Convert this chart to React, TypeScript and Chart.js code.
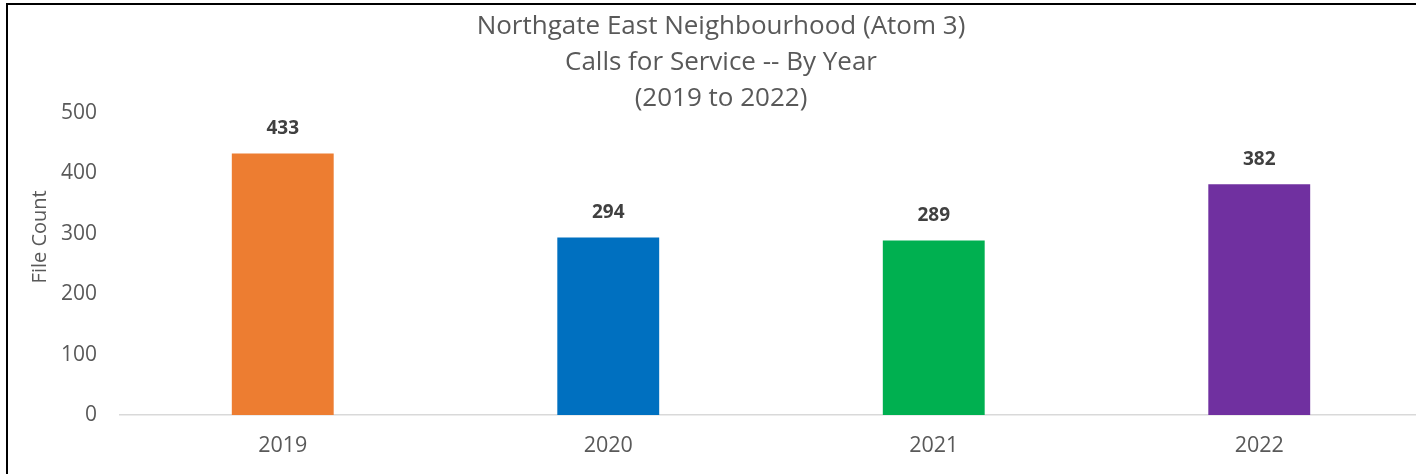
import React, { useEffect, useRef } from "react";
import { Chart, registerables } from "chart.js";

Chart.register(...registerables);

const categories = ["2019", "2020", "2021", "2022"];
const fileCounts = [433, 294, 289, 382];
const barColors = ["#ED7D31", "#0070C0", "#00B050", "#7030A0"];
const titleLines = ["Northgate East Neighbourhood (Atom 3)", "Calls for Service -- By Year", "(2019 to 2022)"];
const yTicks = [0, 100, 200, 300, 400, 500];
const yAxisTitle = "File Count";

const FONT = "'Open Sans', 'Noto Sans', sans-serif";

const customPlugin = {
  id: "custom",
  afterDraw(chart: any) {
    const ctx = chart.ctx;
    const area = chart.chartArea;
    ctx.save();
    // title
    ctx.fillStyle = "#595959";
    ctx.font = `26px ${FONT}`;
    ctx.textAlign = "center";
    ctx.textBaseline = "middle";
    const cx = chart.width / 2;
    titleLines.forEach((line, i) => {
      ctx.fillText(line, cx, 27 + i * 36);
    });
    // y axis title
    ctx.save();
    ctx.translate(40, area.top + (area.bottom - area.top) * 0.41);
    ctx.rotate(-Math.PI / 2);
    ctx.font = `20px ${FONT}`;
    ctx.fillText(yAxisTitle, 0, 0);
    ctx.restore();
    // data labels
    ctx.fillStyle = "#404040";
    ctx.font = `bold 19px ${FONT}`;
    const meta = chart.getDatasetMeta(0);
    meta.data.forEach((bar: any, i: number) => {
      ctx.fillText(String(fileCounts[i]), bar.x, bar.y - 25);
    });
    ctx.restore();
  },
};

export default function App() {
  const ref = useRef<HTMLCanvasElement>(null);
  useEffect(() => {
    if (!ref.current) return;
    const chart = new Chart(ref.current, {
      type: "bar",
      data: {
        labels: categories,
        datasets: [
          {
            data: fileCounts,
            backgroundColor: barColors,
            borderWidth: 0,
            categoryPercentage: 1,
            barPercentage: 0.313,
          },
        ],
      },
      options: {
        animation: false,
        responsive: false,
        maintainAspectRatio: false,
        layout: { padding: { top: 113, right: 20, left: 0, bottom: 0 } },
        plugins: {
          legend: { display: false },
          title: { display: false },
          tooltip: { enabled: false },
        },
        scales: {
          x: {
            grid: { display: false, drawTicks: false },
            border: { display: true, color: "#D9D9D9", width: 1.5 },
            ticks: { color: "#595959", font: { size: 21.5, family: FONT }, padding: 18 },
            afterFit(scale: any) {
              scale.height = 59;
            },
          },
          y: {
            min: 0,
            max: 500,
            afterBuildTicks(scale: any) {
              scale.ticks = yTicks.map((v) => ({ value: v }));
            },
            grid: { display: false, drawTicks: false },
            border: { display: false },
            ticks: { color: "#595959", font: { size: 21, family: FONT }, padding: 23 },
            afterFit(scale: any) {
              scale.width = 120;
            },
          },
        },
      },
      plugins: [customPlugin],
    });
    return () => chart.destroy();
  }, []);
  return (
    <div style={{ position: "fixed", left: 0, top: 0, width: 1416, height: 474, overflow: "hidden", background: "#fff" }}>
      <canvas ref={ref} width={1442} height={474} style={{ position: "absolute", left: 0, top: 0 }} />
      <div style={{ position: "absolute", left: 6, top: 3, width: 2, height: 471, background: "#000" }} />
      <div style={{ position: "absolute", left: 6, top: 3, width: 1410, height: 2, background: "#000" }} />
    </div>
  );
}
